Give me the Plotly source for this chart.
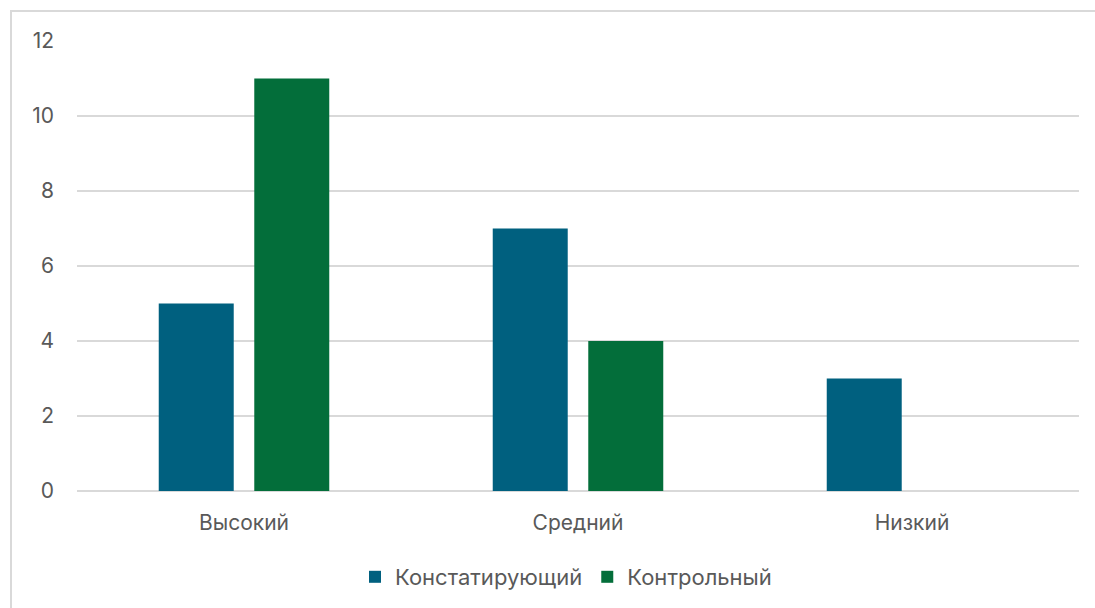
import plotly.graph_objects as go

categories = ["Высокий", "Средний", "Низкий"]
series_names = ["Констатирующий", "Контрольный"]
konst_values = [5, 7, 3]
kontr_values = [11, 4, 0]
y_ticks = [0, 2, 4, 6, 8, 10, 12]

colors = ["#00607F", "#036E3A"]

fig = go.Figure()
fig.add_trace(go.Bar(x=categories, y=konst_values, name=series_names[0],
                     marker=dict(color=colors[0], line=dict(width=0))))
fig.add_trace(go.Bar(x=categories, y=kontr_values, name=series_names[1],
                     marker=dict(color=colors[1], line=dict(width=0))))

L, R, T, B = 77, 16, 41, 117
W, H = 1095, 608
pw = W - L - R
ph = H - T - B
FS = 21
FONT = "Inter"

fig.update_layout(
    width=W, height=H,
    margin=dict(l=L, r=R, t=T, b=B, pad=0, autoexpand=False),
    barmode="group", bargap=0.428, bargroupgap=0.215,
    plot_bgcolor="white", paper_bgcolor="white",
    font=dict(family=FONT, size=FS, color="#595959"),
    showlegend=True,
    legend=dict(orientation="h", x=(566 - L) / pw, xanchor="center",
                y=(491 - 577) / ph, yanchor="middle",
                font=dict(family=FONT, size=22, color="#595959"),
                traceorder="normal", itemsizing="constant"),
    xaxis=dict(showgrid=False, showline=False, zeroline=False, ticks="",
               tickfont=dict(family=FONT, size=FS, color="#595959"), ticklabelstandoff=17),
    yaxis=dict(range=[0, 12], tickvals=y_ticks, showgrid=True,
               gridcolor="#d9d9d9", gridwidth=1.5, zeroline=True,
               zerolinecolor="#d9d9d9", zerolinewidth=1.5, showline=False,
               ticks="", tickfont=dict(family=FONT, size=FS, color="#595959"),
               ticklabelstandoff=22),
    shapes=[dict(type="rect", xref="paper", yref="paper",
                 x0=(11 - L) / pw, x1=(W + 20 - L) / pw,
                 y0=-(H + 20 - (T + ph)) / ph, y1=1 + (T - 11) / ph,
                 line=dict(color="#d9d9d9", width=2), fillcolor="rgba(0,0,0,0)",
                 layer="below")],
)

fig.write_html("out.html")
